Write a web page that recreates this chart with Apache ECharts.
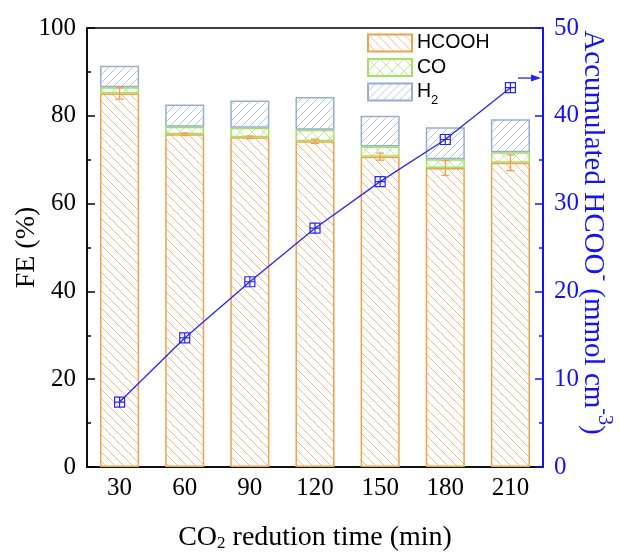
<!DOCTYPE html>
<html>
<head>
<meta charset="utf-8">
<script src="https://cdn.jsdelivr.net/npm/echarts@6/dist/echarts.min.js"></script>
<style>html,body{margin:0;padding:0;background:#fff}#c{width:620px;height:554px}</style>
</head>
<body>
<div id="c"></div>
<script>
const categories = ['30', '60', '90', '120', '150', '180', '210'];
const hcooh = [85.1, 75.8, 75.1, 74.2, 70.7, 68.1, 69.3];
const hcoohErr = [1.3, 0.3, 0.3, 0.5, 0.8, 1.7, 1.8];
const co = [1.4, 1.7, 2.2, 2.6, 2.3, 2.0, 2.4];
const h2 = [4.9, 5.1, 6.2, 7.5, 7.0, 7.3, 7.5];
const accumulated = [7.4, 14.7, 21.1, 27.2, 32.5, 37.3, 43.2];
const arrowLevel = 44.3;

function makePattern(lineColor, size, dirs, lw) {
  const c = document.createElement('canvas');
  c.width = size; c.height = size;
  const ctx = c.getContext('2d');
  ctx.fillStyle = '#ffffff';
  ctx.fillRect(0, 0, size, size);
  ctx.strokeStyle = lineColor;
  ctx.lineWidth = lw;
  for (const d of dirs) {
    for (const o of [-size, 0, size]) {
      ctx.beginPath();
      if (d === '\\') { ctx.moveTo(o, 0); ctx.lineTo(o + size, size); }
      else { ctx.moveTo(o + size, 0); ctx.lineTo(o, size); }
      ctx.stroke();
    }
  }
  return { image: c, repeat: 'repeat' };
}

const orangeBorder = '#F2A04A';
const greenBorder = '#A6E062';
const blueBorder = '#94AFD2';
const lineBlue = '#2626F2';
const axisBlue = '#1414F2';

const patH = makePattern('#F6BC86', 9, ['\\'], 1);
const patCO = makePattern('#C2EC9E', 12, ['\\', '/'], 1);
const patH2 = makePattern('#B4C6E0', 8, ['/'], 1);

const serif = 'Liberation Serif';
const chart = echarts.init(document.getElementById('c'));

const option = {
  backgroundColor: '#ffffff',
  animation: false,
  grid: { left: 87, right: 77, top: 28, bottom: 87, containLabel: false, outerBoundsMode: 'none',
    show: true, borderColor: '#000', borderWidth: 1.5, backgroundColor: '#fff' },
  legend: {
    orient: 'vertical', left: 362, top: 28, itemWidth: 44, itemHeight: 17, itemGap: 4.5, icon: 'rect',
    data: ['HCOOH', 'CO', 'H2'],
    formatter: function (n) { return n === 'H2' ? 'H{sub|2}' : n; },
    textStyle: { fontFamily: 'Liberation Sans', fontSize: 19.5, color: '#000',
      rich: { sub: { fontFamily: 'Liberation Sans', fontSize: 13, verticalAlign: 'bottom', padding: [16, 0, 0, 0] } } }
  },
  xAxis: [{
    type: 'category', data: categories, position: 'bottom',
    name: '{n|CO}{sub|2}{n| redution time (min)}', nameLocation: 'middle', nameGap: 57, nameMoveOverlap: false,
    nameTextStyle: { fontFamily: serif, fontSize: 28, color: '#000',
      rich: {
        n: { fontFamily: serif, fontSize: 28, lineHeight: 28, verticalAlign: 'top', color: '#000' },
        sub: { fontFamily: serif, fontSize: 17, lineHeight: 20, padding: [18, 0, 0, 0], verticalAlign: 'bottom', color: '#000' }
      } },
    axisLine: { lineStyle: { color: '#000', width: 1.5 } },
    axisTick: { inside: true, alignWithLabel: true, length: 7, lineStyle: { color: '#000', width: 1.5 } },
    axisLabel: { fontFamily: serif, fontSize: 25, color: '#000', margin: 9 },
    splitLine: { show: false }
  }, {
    type: 'category', data: categories, position: 'bottom', offset: 0,
    axisLine: { show: false },
    axisTick: { inside: true, alignWithLabel: false, length: 4, lineStyle: { color: '#000', width: 1.5 } },
    axisLabel: { show: false }, splitLine: { show: false }
  }],
  yAxis: [{
    type: 'value', min: 0, max: 100, interval: 20, position: 'left',
    name: 'FE (%)', nameLocation: 'middle', nameGap: 46, nameMoveOverlap: false,
    nameTextStyle: { fontFamily: serif, fontSize: 28, color: '#000' },
    axisLine: { show: true, lineStyle: { color: '#000', width: 1.5 } },
    axisTick: { show: true, inside: true, length: 8, lineStyle: { color: '#000', width: 1.5 } },
    minorTick: { show: true, splitNumber: 2, length: 4, lineStyle: { color: '#000', width: 1.5 } },
    axisLabel: { fontFamily: serif, fontSize: 25, color: '#000', margin: 11 },
    splitLine: { show: false }
  }, {
    type: 'value', min: 0, max: 50, interval: 10, position: 'right',
    name: '{n|Accumulated HCOO}{sup|-}{n| (mmol cm}{sup|-3}{n|)}', nameLocation: 'middle', nameGap: 35, nameRotate: -90, nameMoveOverlap: false,
    nameTextStyle: { fontFamily: serif, fontSize: 29, color: axisBlue, padding: [0, 30, 0, 0],
      rich: {
        n: { fontFamily: serif, fontSize: 29, lineHeight: 36, verticalAlign: 'bottom', color: axisBlue },
        sup: { fontFamily: serif, fontSize: 20, lineHeight: 16, verticalAlign: 'top', color: axisBlue }
      } },
    axisLine: { show: true, lineStyle: { color: axisBlue, width: 2 } },
    axisTick: { show: true, inside: true, length: 8, lineStyle: { color: axisBlue, width: 1.5 } },
    minorTick: { show: true, splitNumber: 2, length: 4, lineStyle: { color: axisBlue, width: 1.5 } },
    axisLabel: { fontFamily: serif, fontSize: 25, color: axisBlue, margin: 11 },
    splitLine: { show: false }
  }],
  series: [{
    name: 'HCOOH', type: 'bar', stack: 'fe', barWidth: '60%', data: hcooh,
    itemStyle: { color: patH, borderColor: orangeBorder, borderWidth: 1.5 }
  }, {
    name: 'CO', type: 'bar', stack: 'fe', data: co,
    itemStyle: { color: patCO, borderColor: greenBorder, borderWidth: 1.5 }
  }, {
    name: 'H2', type: 'bar', stack: 'fe', data: h2,
    itemStyle: { color: patH2, borderColor: blueBorder, borderWidth: 1.5 }
  }, {
    name: 'err', type: 'custom', z: 5,
    data: hcooh.map((v, i) => [i, v, hcoohErr[i]]),
    encode: { x: 0, y: 1 },
    renderItem: function (params, api) {
      const i = api.value(0), v = api.value(1), e = api.value(2);
      const top = api.coord([i, v + e]);
      const bot = api.coord([i, v - e]);
      const hw = 4;
      const st = { stroke: orangeBorder, lineWidth: 1.3 };
      return { type: 'group', children: [
        { type: 'line', shape: { x1: top[0], y1: top[1], x2: bot[0], y2: bot[1] }, style: st },
        { type: 'line', shape: { x1: top[0] - hw, y1: top[1], x2: top[0] + hw, y2: top[1] }, style: st },
        { type: 'line', shape: { x1: bot[0] - hw, y1: bot[1], x2: bot[0] + hw, y2: bot[1] }, style: st }
      ] };
    }
  }, {
    name: 'acc', type: 'line', yAxisIndex: 1, z: 6, data: accumulated,
    symbol: 'path://M0,0 H10 V10 H0 Z M5,0 V10 M0,5 H10', symbolSize: 10,
    lineStyle: { color: lineBlue, width: 1.3 },
    itemStyle: { color: 'rgba(255,255,255,0)', borderColor: lineBlue, borderWidth: 1.2 }
  }]
};
chart.setOption(option);

const ay = chart.convertToPixel({ yAxisIndex: 1 }, arrowLevel);
chart.setOption({
  graphic: [
    { type: 'line', shape: { x1: 518, y1: ay, x2: 533, y2: ay }, style: { stroke: lineBlue, lineWidth: 1.3 }, z: 10 },
    { type: 'polygon', shape: { points: [[531, ay - 3.5], [541, ay], [531, ay + 3.5]] }, style: { fill: lineBlue }, z: 10 }
  ]
});
</script>
</body>
</html>
